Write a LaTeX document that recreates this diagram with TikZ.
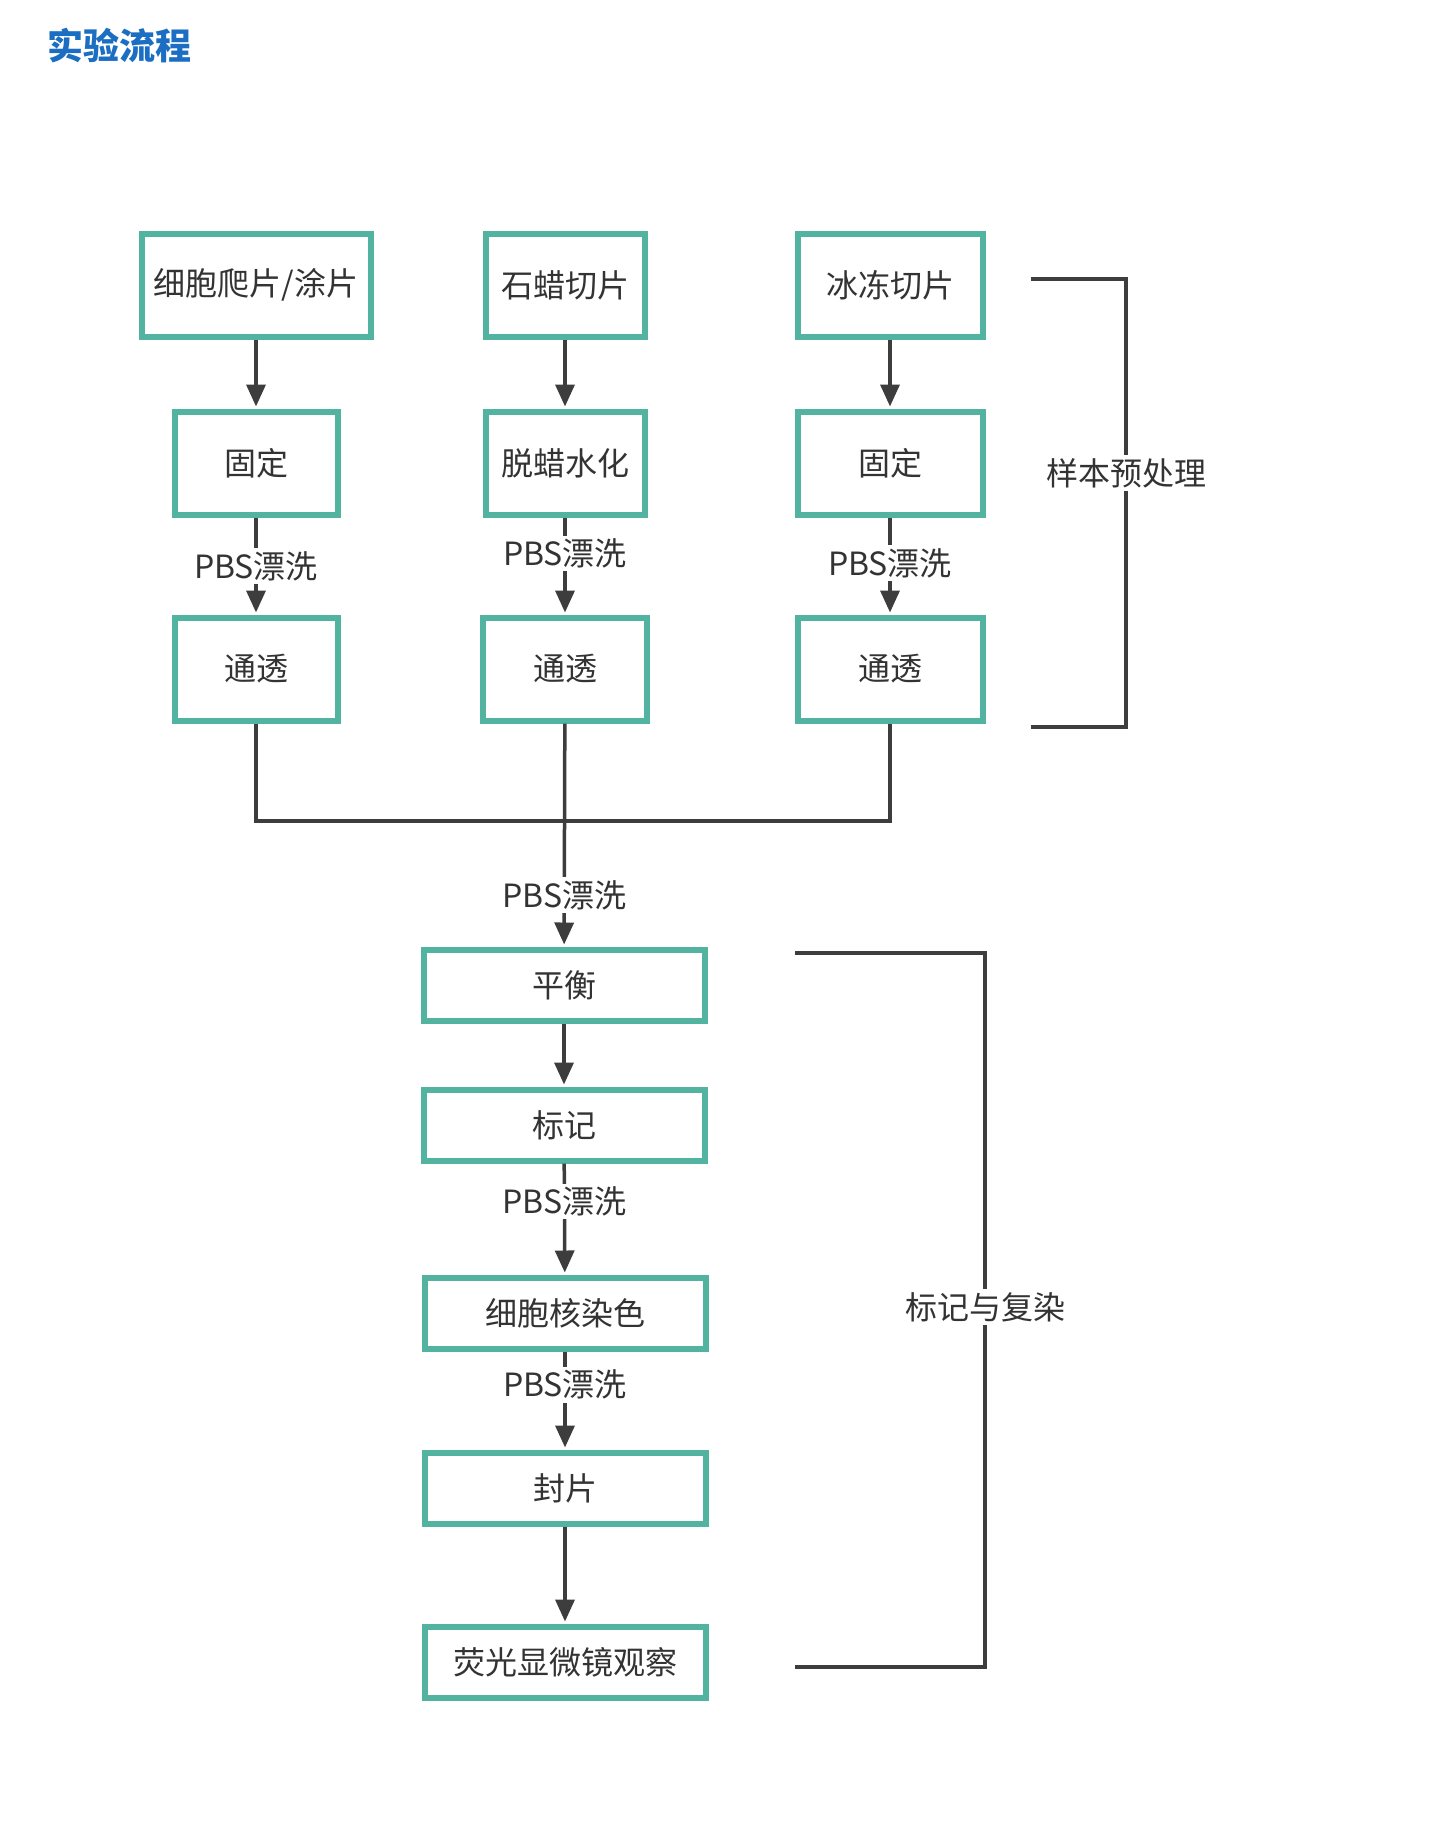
\documentclass[tikz,border=0pt]{standalone}
\usepackage{fontspec}
\setmainfont{Noto Sans CJK SC}
\usetikzlibrary{arrows.meta}
\definecolor{boxgreen}{HTML}{52B3A0}
\definecolor{linegray}{HTML}{3D3D3D}
\definecolor{textgray}{HTML}{333333}
\definecolor{titleblue}{HTML}{1B6EC2}
\tikzset{
  stepbox/.style={draw=boxgreen,line width=3pt,fill=white,text=textgray,inner sep=0pt,
    font=\fontsize{16}{19}\selectfont},
  tallbox/.style={stepbox,minimum height=51.5pt},
  flatbox/.style={stepbox,minimum height=35.5pt,minimum width=140.5pt},
  link/.style={draw=linegray,line width=1.75pt},
  arr/.style={link,-{Triangle[width=9.5pt,length=11pt]},shorten >=1pt},
  wash/.style={fill=white,text=textgray,inner sep=1.5pt,font=\fontsize{16}{19}\selectfont},
}
\begin{document}
\begin{tikzpicture}[x=0.5pt,y=-0.5pt]
  \fill[white] (0,0) rectangle (1440,1825);
  \useasboundingbox (0,0) rectangle (1440,1825);
  \node[anchor=west,text=titleblue,font=\fontsize{18}{22}\selectfont\bfseries] (T) at (40,46) {实验流程};

  \node[tallbox,minimum width=114.5pt] (A1) at (256,285) {细胞爬片/涂片};
  \node[tallbox,minimum width=79.5pt] (B1) at (565,285) {石蜡切片};
  \node[tallbox,minimum width=92.5pt] (C1) at (890,285) {冰冻切片};
  \node[tallbox,minimum width=81.5pt] (A2) at (256,463) {固定};
  \node[tallbox,minimum width=79.5pt] (B2) at (565,463) {脱蜡水化};
  \node[tallbox,minimum width=92.5pt] (C2) at (890,463) {固定};
  \node[tallbox,minimum width=81.5pt] (A3) at (256,669) {通透};
  \node[tallbox,minimum width=82pt] (B3) at (565,669) {通透};
  \node[tallbox,minimum width=92.5pt] (C3) at (890,669) {通透};

  \node[flatbox] (P1) at (564,985) {平衡};
  \node[flatbox] (P2) at (564,1125) {标记};
  \node[flatbox] (P3) at (565,1313) {细胞核染色};
  \node[flatbox] (P4) at (565,1488) {封片};
  \node[flatbox] (P5) at (565,1662) {荧光显微镜观察};

  \draw[arr] (A1) -- (A2);
  \draw[arr] (B1) -- (B2);
  \draw[arr] (C1) -- (C2);
  \draw[arr] (A2) -- node[wash,pos=0.5] {PBS漂洗} (A3);
  \draw[arr] (B2) -- node[wash,pos=0.37] {PBS漂洗} (B3);
  \draw[arr] (C2) -- node[wash,pos=0.47] {PBS漂洗} (C3);

  \coordinate (J) at (565,821);
  \draw[link] (A3.south) |- (J) -| (C3.south);
  \draw[arr] (B3) -- node[wash,pos=0.77] {PBS漂洗} (P1);
  \draw[arr] (P1) -- (P2);
  \draw[arr] (P2) -- node[wash,pos=0.34] {PBS漂洗} (P3);
  \draw[arr] (P3) -- node[wash,pos=0.34] {PBS漂洗} (P4);
  \draw[arr] (P4) -- (P5);

  \coordinate (R1) at (1031,279);
  \coordinate (R2) at (1031,727);
  \coordinate (S1) at (795,953);
  \coordinate (S2) at (795,1667);
  \draw[link] (R1) -| (1126,727) -- (R2);
  \draw[link] (S1) -| (985,1667) -- (S2);
  \node[wash] (L1) at (1126,473) {样本预处理};
  \node[wash] (L2) at (985,1307) {标记与复染};
\end{tikzpicture}
\end{document}
